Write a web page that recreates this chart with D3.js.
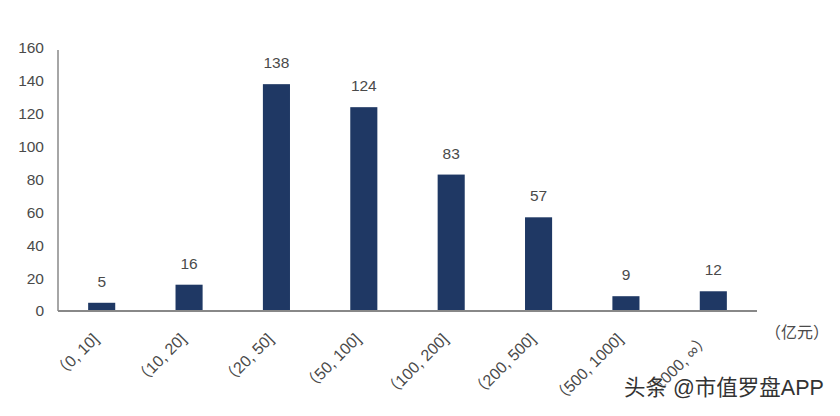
<!DOCTYPE html>
<html>
<head>
<meta charset="utf-8">
<script src="https://cdn.jsdelivr.net/npm/d3@7"></script>
<style>
  body { margin: 0; background: #fff; }
  svg text { font-family: "Liberation Sans", "Noto Sans CJK SC", sans-serif; fill: #4a4a4a; }
</style>
</head>
<body>
<div id="chart"></div>
<script>
'use strict';
// category labels and counts
const categories = ["（0, 10]", "（10, 20]", "（20, 50]", "（50, 100]", "（100, 200]", "（200, 500]", "（500, 1000]", "（1000, ∞）"];
const counts = [5, 16, 138, 124, 83, 57, 9, 12];
const yTicks = [0, 20, 40, 60, 80, 100, 120, 140, 160];

const margin = { left: 58, top: 48, right: 83, bottom: 105 };
const W = 840, H = 416;
const width = W - margin.left - margin.right;
const height = H - margin.top - margin.bottom;

const svg = d3.select("#chart").append("svg")
    .attr("width", W)
    .attr("height", H);
const g = svg.append("g")
    .attr("transform", "translate(" + margin.left + "," + margin.top + ")");

const x = d3.scaleBand().domain(categories).range([0, width]).paddingInner(0.69).paddingOuter(0.345);
const y = d3.scaleLinear().domain([0, 160]).range([height, 0]);

// y axis labels only, plus plain axis line
g.selectAll(".ytick")
    .data(yTicks)
    .enter().append("text")
    .attr("x", -14)
    .attr("y", d => y(d))
    .attr("dy", "0.35em")
    .style("text-anchor", "end")
    .style("font-size", "15.5px")
    .text(d => d);

g.append("line")
    .attr("x1", 0).attr("x2", 0)
    .attr("y1", y(160) + 2).attr("y2", height)
    .attr("stroke", "#888").attr("stroke-width", 1.5);

// bars
g.selectAll(".bar")
    .data(counts)
    .enter().append("rect")
    .attr("x", (d, i) => x(categories[i]))
    .attr("y", d => y(d))
    .attr("width", x.bandwidth())
    .attr("height", d => height - y(d))
    .attr("fill", "#1f3864");

// value labels
g.selectAll(".val")
    .data(counts)
    .enter().append("text")
    .attr("x", (d, i) => x(categories[i]) + x.bandwidth() / 2)
    .attr("y", d => y(d) - 16)
    .style("text-anchor", "middle")
    .style("font-size", "15.5px")
    .text(d => d);

// x axis line
g.append("line")
    .attr("x1", 0).attr("x2", width)
    .attr("y1", height).attr("y2", height)
    .attr("stroke", "#888").attr("stroke-width", 2);

// rotated category labels
g.selectAll(".xlab")
    .data(categories)
    .enter().append("text")
    .attr("transform", d => "translate(" + (x(d) + x.bandwidth() / 2 - 2) + "," + (height + 29) + ") rotate(-45)")
    .style("text-anchor", "end")
    .style("font-size", "16px")
    .text(d => d);

// unit
svg.append("text")
    .attr("x", 765).attr("y", 338)
    .style("font-size", "16px")
    .text("（亿元）");

// watermark
svg.append("text")
    .attr("x", 624).attr("y", 395)
    .style("font-size", "21.5px")
    .style("fill", "#333")
    .style("stroke", "#fff").style("stroke-width", 1.2).style("paint-order", "stroke")
    .text("头条 @市值罗盘APP");
</script>
</body>
</html>
